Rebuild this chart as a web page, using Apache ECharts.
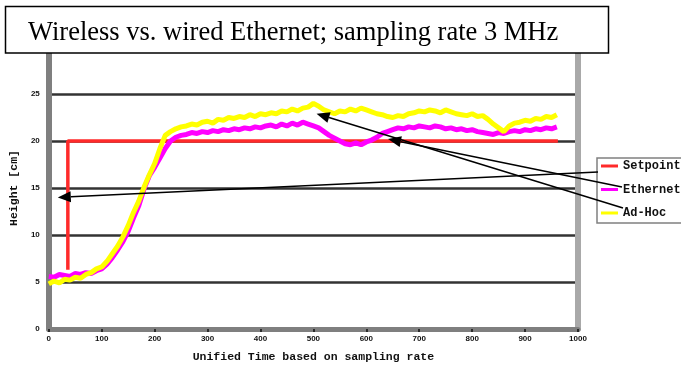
<!DOCTYPE html>
<html>
<head>
<meta charset="utf-8">
<script src="https://cdn.jsdelivr.net/npm/echarts@6/dist/echarts.min.js"></script>
<style>
html, body { margin: 0; padding: 0; background: #fff; }
#chart { width: 681px; height: 370px; }
</style>
</head>
<body>
<div id="chart"></div>
<script>
// sample index (x) shared by both measured curves
const sampleTimes = [0, 10, 20, 30, 40, 50, 60, 70, 80, 90,
  100, 110, 120, 130, 140, 150, 160, 170, 180, 190,
  200, 210, 220, 230, 240, 250, 260, 270, 280, 290,
  300, 310, 320, 330, 340, 350, 360, 370, 380, 390,
  400, 410, 420, 430, 440, 450, 460, 470, 480, 490,
  500, 510, 520, 530, 540, 550, 560, 570, 580, 590,
  600, 610, 620, 630, 640, 650, 660, 670, 680, 690,
  700, 710, 720, 730, 740, 750, 760, 770, 780, 790,
  800, 810, 820, 830, 840, 850, 860, 870, 880, 890,
  900, 910, 920, 930, 940, 950, 960];

const adHoc = [4.8, 5.1, 4.9, 5.3, 5.2, 5.5, 5.4, 5.8, 6.0, 6.4,
  6.6, 7.2, 8.0, 8.8, 9.8, 11.0, 12.4, 13.6, 15.1, 16.4,
  17.6, 19.2, 20.6, 21.0, 21.3, 21.5, 21.6, 21.8, 21.7, 22.0,
  22.1, 21.9, 22.3, 22.2, 22.5, 22.4, 22.6, 22.5, 22.8, 22.6,
  22.9, 22.8, 23.0, 22.9, 23.2, 23.1, 23.4, 23.2, 23.5, 23.6,
  24.0, 23.7, 23.3, 23.1, 22.9, 23.2, 23.1, 23.4, 23.2, 23.5,
  23.3, 23.1, 22.9, 22.8, 22.6, 22.5, 22.7, 22.6, 22.9, 23.0,
  23.2, 23.1, 23.3, 23.2, 23.0, 23.3, 23.1, 22.9, 22.8, 22.7,
  22.9, 22.6, 22.7, 22.3, 21.8, 21.4, 21.0, 21.6, 21.9, 22.0,
  22.2, 22.1, 22.4, 22.3, 22.6, 22.5, 22.8];

const ethernet = [5.6, 5.5, 5.8, 5.7, 5.6, 5.9, 5.8, 6.0, 5.9, 6.2,
  6.4, 6.9, 7.6, 8.4, 9.3, 10.4, 11.8, 13.1, 14.9, 16.3,
  17.2, 18.2, 19.2, 20.0, 20.4, 20.6, 20.7, 20.9, 20.8, 21.0,
  20.9, 21.1, 21.0, 21.2, 21.1, 21.3, 21.2, 21.4, 21.3, 21.5,
  21.4, 21.6, 21.7, 21.5, 21.8, 21.6, 21.9, 21.7, 22.0, 21.8,
  21.6, 21.4, 21.0, 20.6, 20.3, 20.0, 19.7, 19.6, 19.8, 19.6,
  19.9, 20.1, 20.4, 20.8, 21.0, 21.2, 21.4, 21.3, 21.5, 21.4,
  21.6, 21.5, 21.4, 21.6, 21.5, 21.3, 21.4, 21.2, 21.3, 21.1,
  21.2, 21.0, 20.9, 20.8, 20.7, 20.9, 20.8, 21.0, 21.1, 21.0,
  21.2, 21.1, 21.3, 21.2, 21.4, 21.3, 21.5];

const setpointTimes = [36, 36, 962];
const setpointValues = [6.3, 20, 20];

const seriesNames = ['Setpoint', 'Ethernet', 'Ad-Hoc'];
const titleText = 'Wireless vs. wired Ethernet; sampling rate 3 MHz';
const xTitle = 'Unified Time based on sampling rate';
const yTitle = 'Height [cm]';

// arrow tips, in data units, and where each arrow starts (next to the legend)
const arrowTips = [[17, 14.0], [506, 22.9], [641, 20.2]];
const arrowStarts = [[598, 172], [623, 208], [622, 187]];

const pairs = (xs, ys) => xs.map((x, i) => [x, ys[i]]);

const chart = echarts.init(document.getElementById('chart'));

const monoFont = '"Liberation Mono", "DejaVu Sans Mono", monospace';
const lineIcon = 'path://M0,0 L17,0 L17,3 L0,3 Z';

chart.setOption({
  animation: false,
  backgroundColor: '#fff',
  grid: { left: 46, right: 103, top: 47, bottom: 41 },
  legend: {
    data: seriesNames.map(n => ({ name: n, icon: lineIcon })),
    orient: 'vertical',
    left: 597,
    top: 158,
    itemWidth: 17,
    itemHeight: 10,
    itemGap: 11.5,
    padding: [2, 40, 4, 4],
    borderColor: '#808080',
    borderWidth: 1.5,
    backgroundColor: '#fff',
    textStyle: { fontFamily: monoFont, fontWeight: 'bold', fontSize: 12, color: '#111' }
  },
  xAxis: {
    type: 'value',
    min: 0,
    max: 1000,
    interval: 100,
    name: xTitle,
    nameLocation: 'middle',
    nameGap: 22,
    nameTextStyle: { fontFamily: monoFont, fontWeight: 'bold', fontSize: 11.5, color: '#111' },
    axisLine: { lineStyle: { color: '#7f7f7f', width: 5 } },
    axisTick: { show: true, length: 3, lineStyle: { color: '#111', width: 1.5 } },
    axisLabel: { fontSize: 8, fontWeight: 'bold', color: '#111', margin: 6, formatter: v => String(v) },
    splitLine: { show: false }
  },
  yAxis: [{
    type: 'value',
    min: 0,
    max: 30,
    interval: 5,
    name: yTitle,
    nameLocation: 'middle',
    nameGap: 27,
    nameTextStyle: { fontFamily: monoFont, fontWeight: 'bold', fontSize: 11.5, color: '#111' },
    axisLine: { show: true, lineStyle: { color: '#7f7f7f', width: 6 } },
    axisTick: { show: false },
    axisLabel: {
      fontSize: 8, fontWeight: 'bold', color: '#111', margin: 9,
      formatter: v => (v === 30 ? '' : v)
    },
    splitLine: { lineStyle: { color: '#333', width: 2.5 } }
  }, {
    type: 'value',
    position: 'right',
    min: 0,
    max: 30,
    interval: 5,
    axisLine: { show: true, lineStyle: { color: '#a9a9a9', width: 6 } },
    axisTick: { show: false },
    axisLabel: { show: false },
    splitLine: { show: false }
  }],
  series: [{
    name: seriesNames[0],
    type: 'line',
    symbol: 'none',
    data: pairs(setpointTimes, setpointValues),
    lineStyle: { color: '#ff2a2a', width: 3.5 },
    itemStyle: { color: '#ff2a2a' }
  }, {
    name: seriesNames[1],
    type: 'line',
    symbol: 'none',
    data: pairs(sampleTimes, ethernet),
    lineStyle: { color: '#ff00ff', width: 5 },
    itemStyle: { color: '#ff00ff' }
  }, {
    name: seriesNames[2],
    type: 'line',
    symbol: 'none',
    data: pairs(sampleTimes, adHoc),
    lineStyle: { color: '#ffff00', width: 5 },
    itemStyle: { color: '#ffff00' }
  }]
});

// 注释箭头 + 标题框
function arrow(start, tipData) {
  const t = chart.convertToPixel({ gridIndex: 0 }, tipData);
  const dx = t[0] - start[0], dy = t[1] - start[1];
  const len = Math.sqrt(dx * dx + dy * dy);
  const ux = dx / len, uy = dy / len;
  const L = 13, w = 5.5;
  const bx = t[0] - ux * L, by = t[1] - uy * L;
  return [{
    type: 'line', z: 90,
    shape: { x1: start[0], y1: start[1], x2: bx, y2: by },
    style: { stroke: '#000', lineWidth: 1.5 }
  }, {
    type: 'polygon', z: 90,
    shape: { points: [[t[0], t[1]], [bx - uy * w, by + ux * w], [bx + uy * w, by - ux * w]] },
    style: { fill: '#000' }
  }];
}

let graphics = [];
arrowTips.forEach((tip, i) => { graphics = graphics.concat(arrow(arrowStarts[i], tip)); });

graphics.push({
  type: 'rect', z: 100,
  shape: { x: 5, y: 6, width: 604, height: 47 },
  style: { fill: '#fff' }
});
graphics.push({
  type: 'text', z: 101,
  style: {
    text: titleText, x: 28, y: 33,
    font: '26.5px "Liberation Serif", "Times New Roman", serif',
    fill: '#000', textVerticalAlign: 'middle'
  }
});
graphics.push({
  type: 'rect', z: 102,
  shape: { x: 6, y: 46, width: 602, height: 6 },
  style: { fill: '#fff' }
});
graphics.push({
  type: 'rect', z: 103,
  shape: { x: 5.5, y: 6.5, width: 603, height: 46.5 },
  style: { fill: 'none', stroke: '#000', lineWidth: 1.5 }
});

chart.setOption({ graphic: graphics });

window.addEventListener('resize', function () {
  chart.resize();
});
</script>
</body>
</html>
